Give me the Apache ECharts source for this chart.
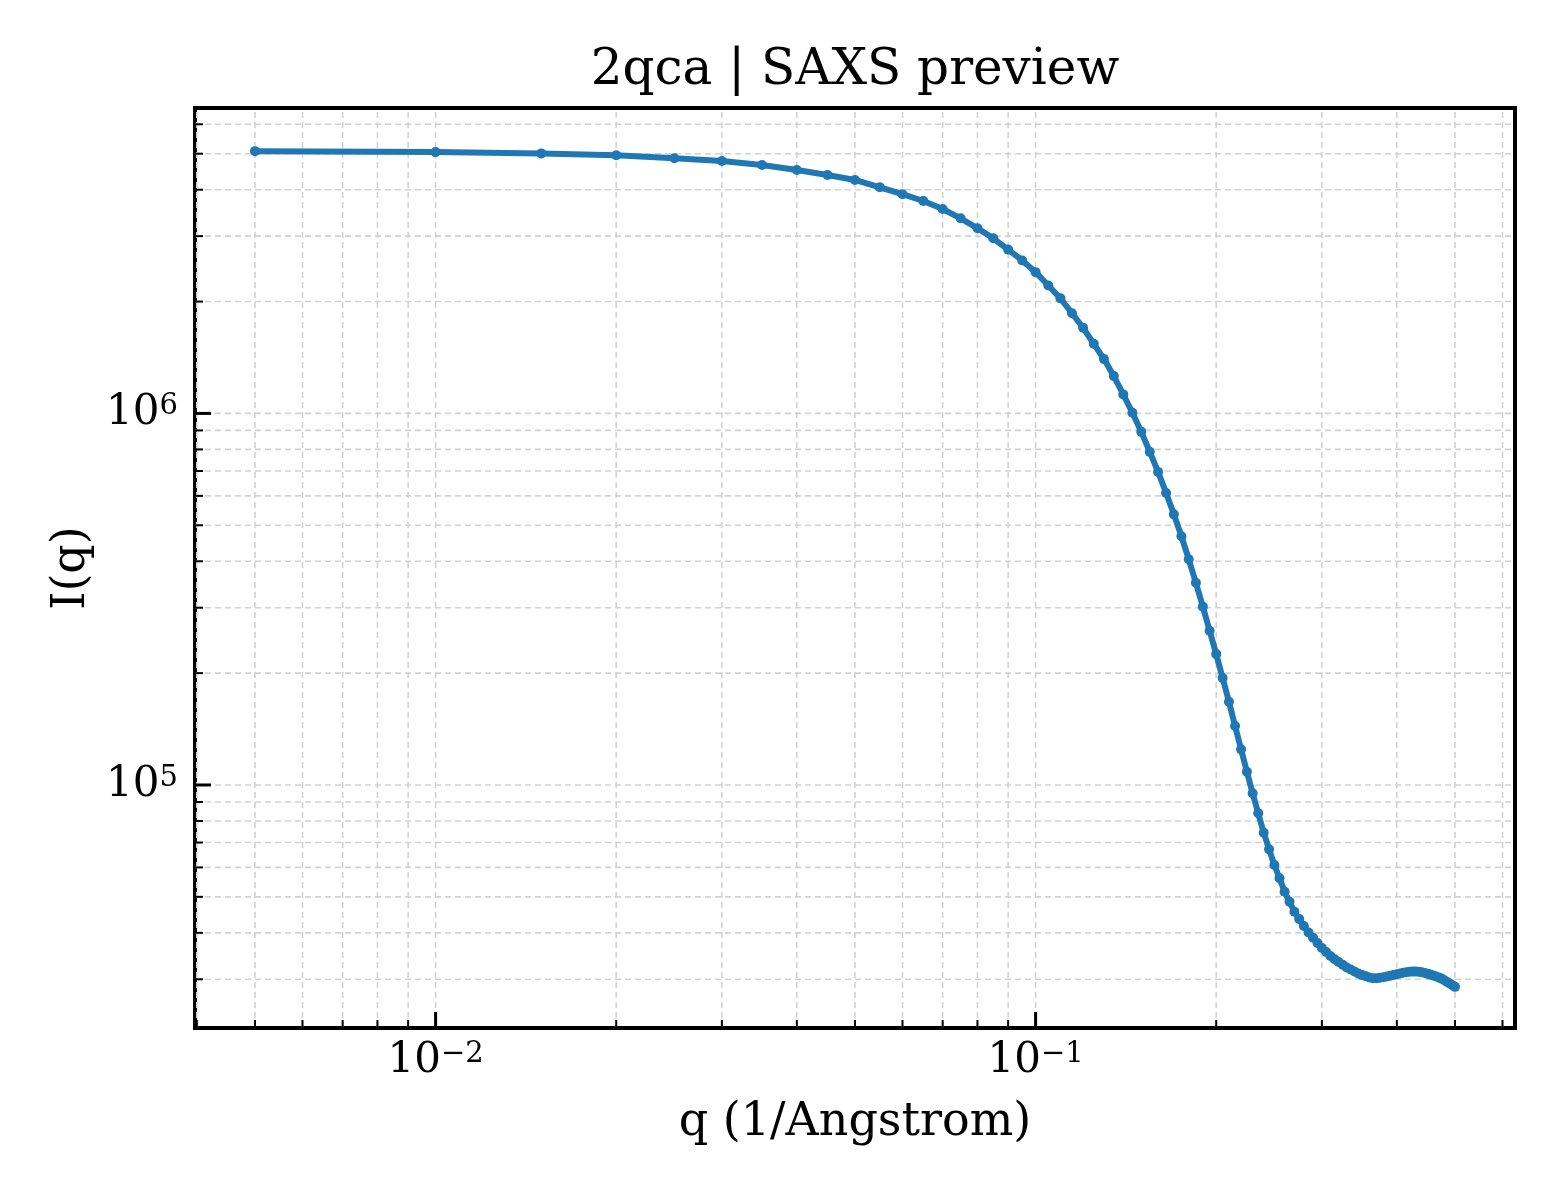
<!DOCTYPE html>
<html>
<head>
<meta charset="utf-8">
<title>2qca | SAXS preview</title>
<script src="https://cdn.jsdelivr.net/npm/echarts@6/dist/echarts.min.js"></script>
<style>
    html, body { margin: 0; padding: 0; background: #fff; }
    #chart { width: 1560px; height: 1200px; }
</style>
</head>
<body>
<div id="chart"></div>
<script>
// values (log-log)
const q = [
    0.005, 0.010, 0.015, 0.020, 0.025, 0.030, 0.035, 0.040, 0.045, 0.050,
    0.055, 0.060, 0.065, 0.070, 0.075, 0.080, 0.085, 0.090, 0.095, 0.100,
    0.105, 0.110, 0.115, 0.120, 0.125, 0.130, 0.135, 0.140, 0.145, 0.150,
    0.155, 0.160, 0.165, 0.170, 0.175, 0.180, 0.185, 0.190, 0.195, 0.200,
    0.205, 0.210, 0.215, 0.220, 0.225, 0.230, 0.235, 0.240, 0.245, 0.250,
    0.255, 0.260, 0.265, 0.270, 0.275, 0.280, 0.285, 0.290, 0.295, 0.300,
    0.305, 0.310, 0.315, 0.320, 0.325, 0.330, 0.335, 0.340, 0.345, 0.350,
    0.355, 0.360, 0.365, 0.370, 0.375, 0.380, 0.385, 0.390, 0.395, 0.400,
    0.405, 0.410, 0.415, 0.420, 0.425, 0.430, 0.435, 0.440, 0.445, 0.450,
    0.455, 0.460, 0.465, 0.470, 0.475, 0.480, 0.485, 0.490, 0.495, 0.500,
]

const intensity = [
    5080000, 5050000, 5010000, 4950000, 4860000, 4780000, 4660000, 4520000, 4380000, 4250000,
    4060000, 3890000, 3730000, 3550000, 3350000, 3150000, 2960000, 2760000, 2580000, 2400000,
    2210000, 2040000, 1860000, 1700000, 1540000, 1400000, 1260000, 1125000, 1004000, 892000,
    788000, 696000, 611000, 535000, 467000, 405000, 350000, 302000, 260000, 225000,
    194000, 167500, 144200, 124700, 108600, 95000, 83900, 74400, 67100, 60900,
    56100, 51600, 48500, 45600, 43570, 41730, 40090, 38790, 37560, 36410,
    35520, 34650, 33970, 33370, 32810, 32280, 31860, 31480, 31090, 30780,
    30550, 30330, 30190, 30190, 30270, 30370, 30520, 30670, 30820, 30960,
    31090, 31230, 31340, 31420, 31460, 31460, 31420, 31340, 31190, 31030,
    30880, 30710, 30520, 30330, 30120, 29820, 29510, 29210, 28920, 28620,
]

const xRange = [0.003972, 0.6295]
const yRange = [22180, 6637000]

const xMajorTicks = [0.01, 0.1]
const xMinorTicks = [
    0.004, 0.005, 0.006, 0.007, 0.008, 0.009,
    0.02, 0.03, 0.04, 0.05, 0.06, 0.07, 0.08, 0.09,
    0.2, 0.3, 0.4, 0.5, 0.6,
]
const yMajorTicks = [1e5, 1e6]
const yMinorTicks = [
    3e4, 4e4, 5e4, 6e4, 7e4, 8e4, 9e4,
    2e5, 3e5, 4e5, 5e5, 6e5, 7e5, 8e5, 9e5,
    2e6, 3e6, 4e6, 5e6, 6e6,
]
const xTickLabels = ['−2', '−1']
const yTickLabels = ['5', '6']

const font = 'DejaVu Serif'
const blue = '#1f77b4'

const gridLine = { stroke: '#d2d2d2', lineWidth: 1.6, lineDash: [6, 4] }

const powerLabel = (exp) => ({
    text: '{b|10}{s|' + exp + '}',
    fontFamily: font,
    fontSize: 42,
    fill: '#000',
    rich: {
        b: { fontFamily: font, fontSize: 42, lineHeight: 42, verticalAlign: 'bottom', fill: '#000' },
        s: { fontFamily: font, fontSize: 29, lineHeight: 24, verticalAlign: 'top', fill: '#000' },
    },
})

const xTicks = (params, api) => {
    const v = api.value(0)
    const major = api.value(2) === 1
    const lo = api.coord([v, yRange[0]])
    const hi = api.coord([v, yRange[1]])
    return {
        type: 'group',
        children: [
            { type: 'line', shape: { x1: lo[0], y1: lo[1], x2: hi[0], y2: hi[1] }, style: gridLine },
            {
                type: 'line',
                shape: { x1: lo[0], y1: lo[1], x2: lo[0], y2: lo[1] - (major ? 16 : 8) },
                style: { stroke: '#000', lineWidth: major ? 3 : 2 },
            },
        ],
    }
}

const yTicks = (params, api) => {
    const v = api.value(1)
    const major = api.value(2) === 1
    const lo = api.coord([xRange[0], v])
    const hi = api.coord([xRange[1], v])
    return {
        type: 'group',
        children: [
            { type: 'line', shape: { x1: lo[0], y1: lo[1], x2: hi[0], y2: hi[1] }, style: gridLine },
            {
                type: 'line',
                shape: { x1: lo[0], y1: lo[1], x2: lo[0] + (major ? 16 : 8), y2: lo[1] },
                style: { stroke: '#000', lineWidth: major ? 3 : 2 },
            },
        ],
    }
}

const xLabels = (params, api) => {
    const p = api.coord([api.value(0), yRange[0]])
    return {
        type: 'text',
        x: p[0],
        y: p[1] + 12,
        style: Object.assign(powerLabel(xTickLabels[params.dataIndex]), { align: 'center', verticalAlign: 'top' }),
    }
}

const yLabels = (params, api) => {
    const p = api.coord([xRange[0], api.value(1)])
    return {
        type: 'text',
        x: p[0] - 17,
        y: p[1],
        style: Object.assign(powerLabel(yTickLabels[params.dataIndex]), { align: 'right', verticalAlign: 'middle' }),
    }
}

const chart = echarts.init(document.getElementById('chart'), null, { renderer: 'canvas' })

const axisCommon = {
    type: 'log',
    logBase: 10,
    nameLocation: 'middle',
    nameTextStyle: { fontFamily: font, fontSize: 46, color: '#000' },
    axisLine: { show: false },
    axisTick: { show: false },
    axisLabel: { show: false },
    splitLine: { show: false },
}

chart.setOption({
    animation: false,
    backgroundColor: '#fff',
    title: {
        text: '2qca | SAXS preview',
        left: 850,
        top: 41,
        textAlign: 'center',
        textStyle: { fontFamily: font, fontSize: 50, fontWeight: 'normal', color: '#000' },
    },
    grid: {
        left: 195,
        right: 45,
        top: 108,
        bottom: 172,
        show: true,
        borderColor: '#000',
        borderWidth: 4,
        backgroundColor: 'transparent',
    },
    xAxis: Object.assign({}, axisCommon, {
        min: xRange[0],
        max: xRange[1],
        name: 'q (1/Angstrom)',
        nameGap: 72,
    }),
    yAxis: Object.assign({}, axisCommon, {
        min: yRange[0],
        max: yRange[1],
        name: 'I(q)',
        nameRotate: 90,
        nameGap: 100,
    }),
    series: [
        {
            type: 'custom',
            silent: true,
            renderItem: xTicks,
            data: xMajorTicks.map(v => [v, yRange[0], 1]).concat(xMinorTicks.map(v => [v, yRange[0], 0])),
        },
        {
            type: 'custom',
            silent: true,
            renderItem: yTicks,
            data: yMajorTicks.map(v => [xRange[0], v, 1]).concat(yMinorTicks.map(v => [xRange[0], v, 0])),
        },
        {
            type: 'custom',
            silent: true,
            renderItem: xLabels,
            data: xMajorTicks.map(v => [v, yRange[0]]),
        },
        {
            type: 'custom',
            silent: true,
            renderItem: yLabels,
            data: yMajorTicks.map(v => [xRange[0], v]),
        },
        {
            type: 'line',
            name: 'I(q)',
            data: q.map((v, i) => [v, intensity[i]]),
            symbol: 'circle',
            symbolSize: 10,
            showSymbol: true,
            lineStyle: { color: blue, width: 6 },
            itemStyle: { color: blue },
            z: 5,
        },
    ],
})
</script>
</body>
</html>
